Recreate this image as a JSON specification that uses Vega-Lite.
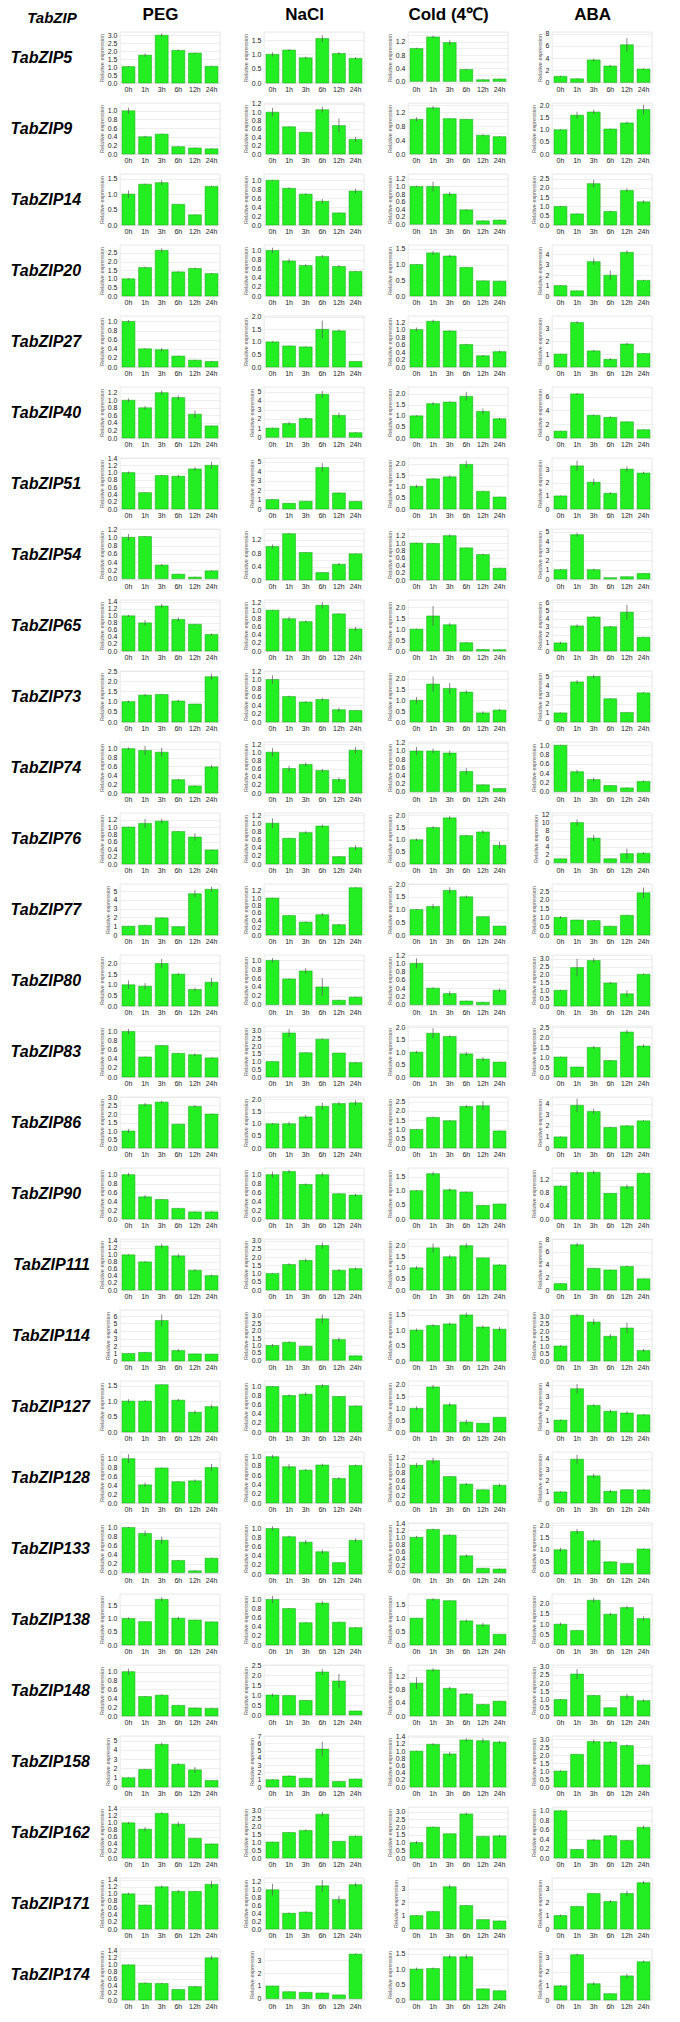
{
"$schema": "https://vega.github.io/schema/vega-lite/v6.json",
"padding": {"left": 10, "top": 6, "right": 5, "bottom": 5},
"bounds": "flush",
"spacing": {"row": 20, "column": 44},
"title": {"text": "\u200b\u00a0\u00a0\u00a0\u00a0TabZIP", "anchor": "start", "fontSize": 15, "fontStyle": "italic", "fontWeight": "bold", "offset": -20},
"data": {"values": [
{"g":5,"t":"PEG","lo":0.9,"hi":3.2},{"g":5,"t":"NaCl","lo":0.76,"hi":1.78},{"g":5,"t":"Cold","lo":-0.05,"hi":1.5},{"g":5,"t":"ABA","lo":-0.1,"hi":8.3},
{"g":5,"t":"PEG","h":"0h","v":1.03,"e":0.03},{"g":5,"t":"PEG","h":"1h","v":1.75,"e":0.1},{"g":5,"t":"PEG","h":"3h","v":3.0,"e":0.12},{"g":5,"t":"PEG","h":"6h","v":2.05,"e":0.05},{"g":5,"t":"PEG","h":"12h","v":1.88,"e":0.03},{"g":5,"t":"PEG","h":"24h","v":1.05,"e":0.03},
{"g":5,"t":"NaCl","h":"0h","v":1.0,"e":0.07},{"g":5,"t":"NaCl","h":"1h","v":1.15,"e":0.03},{"g":5,"t":"NaCl","h":"3h","v":0.88,"e":0.04},{"g":5,"t":"NaCl","h":"6h","v":1.55,"e":0.12},{"g":5,"t":"NaCl","h":"12h","v":1.03,"e":0.05},{"g":5,"t":"NaCl","h":"24h","v":0.86,"e":0.04},
{"g":5,"t":"Cold","h":"0h","v":1.0,"e":0.02},{"g":5,"t":"Cold","h":"1h","v":1.35,"e":0.04},{"g":5,"t":"Cold","h":"3h","v":1.18,"e":0.08},{"g":5,"t":"Cold","h":"6h","v":0.36,"e":0.02},{"g":5,"t":"Cold","h":"12h","v":0.05,"e":0.01},{"g":5,"t":"Cold","h":"24h","v":0.07,"e":0.01},
{"g":5,"t":"ABA","h":"0h","v":1.0,"e":0.1},{"g":5,"t":"ABA","h":"1h","v":0.6,"e":0.05},{"g":5,"t":"ABA","h":"3h","v":3.7,"e":0.2},{"g":5,"t":"ABA","h":"6h","v":2.7,"e":0.15},{"g":5,"t":"ABA","h":"12h","v":6.2,"e":1.1},{"g":5,"t":"ABA","h":"24h","v":2.2,"e":0.1},
{"g":9,"t":"PEG","lo":0.1,"hi":1.18},{"g":9,"t":"NaCl","lo":0.21,"hi":1.22},{"g":9,"t":"Cold","lo":0.38,"hi":1.47},{"g":9,"t":"ABA","lo":0.91,"hi":2.1},
{"g":9,"t":"PEG","h":"0h","v":1.0,"e":0.07},{"g":9,"t":"PEG","h":"1h","v":0.4,"e":0.02},{"g":9,"t":"PEG","h":"3h","v":0.46,"e":0.01},{"g":9,"t":"PEG","h":"6h","v":0.17,"e":0.01},{"g":9,"t":"PEG","h":"12h","v":0.14,"e":0.01},{"g":9,"t":"PEG","h":"24h","v":0.12,"e":0.01},
{"g":9,"t":"NaCl","h":"0h","v":1.0,"e":0.1},{"g":9,"t":"NaCl","h":"1h","v":0.65,"e":0.01},{"g":9,"t":"NaCl","h":"3h","v":0.52,"e":0.01},{"g":9,"t":"NaCl","h":"6h","v":1.06,"e":0.07},{"g":9,"t":"NaCl","h":"12h","v":0.68,"e":0.17},{"g":9,"t":"NaCl","h":"24h","v":0.35,"e":0.06},
{"g":9,"t":"Cold","h":"0h","v":1.0,"e":0.06},{"g":9,"t":"Cold","h":"1h","v":1.33,"e":0.05},{"g":9,"t":"Cold","h":"3h","v":1.02,"e":0.01},{"g":9,"t":"Cold","h":"6h","v":1.0,"e":0.01},{"g":9,"t":"Cold","h":"12h","v":0.54,"e":0.03},{"g":9,"t":"Cold","h":"24h","v":0.5,"e":0.01},
{"g":9,"t":"ABA","h":"0h","v":1.0,"e":0.02},{"g":9,"t":"ABA","h":"1h","v":1.6,"e":0.14},{"g":9,"t":"ABA","h":"3h","v":1.73,"e":0.09},{"g":9,"t":"ABA","h":"6h","v":1.03,"e":0.02},{"g":9,"t":"ABA","h":"12h","v":1.28,"e":0.05},{"g":9,"t":"ABA","h":"24h","v":1.83,"e":0.2},
{"g":14,"t":"PEG","lo":0.23,"hi":1.65},{"g":14,"t":"NaCl","lo":0.19,"hi":1.14},{"g":14,"t":"Cold","lo":-0.02,"hi":1.33},{"g":14,"t":"ABA","lo":0.4,"hi":2.75},
{"g":14,"t":"PEG","h":"0h","v":1.0,"e":0.12},{"g":14,"t":"PEG","h":"1h","v":1.32,"e":0.02},{"g":14,"t":"PEG","h":"3h","v":1.37,"e":0.08},{"g":14,"t":"PEG","h":"6h","v":0.67,"e":0.01},{"g":14,"t":"PEG","h":"12h","v":0.33,"e":0.01},{"g":14,"t":"PEG","h":"24h","v":1.25,"e":0.02},
{"g":14,"t":"NaCl","h":"0h","v":1.0,"e":0.01},{"g":14,"t":"NaCl","h":"1h","v":0.82,"e":0.02},{"g":14,"t":"NaCl","h":"3h","v":0.69,"e":0.02},{"g":14,"t":"NaCl","h":"6h","v":0.53,"e":0.05},{"g":14,"t":"NaCl","h":"12h","v":0.27,"e":0.01},{"g":14,"t":"NaCl","h":"24h","v":0.76,"e":0.05},
{"g":14,"t":"Cold","h":"0h","v":1.0,"e":0.02},{"g":14,"t":"Cold","h":"1h","v":1.0,"e":0.13},{"g":14,"t":"Cold","h":"3h","v":0.8,"e":0.06},{"g":14,"t":"Cold","h":"6h","v":0.38,"e":0.02},{"g":14,"t":"Cold","h":"12h","v":0.09,"e":0.01},{"g":14,"t":"Cold","h":"24h","v":0.11,"e":0.01},
{"g":14,"t":"ABA","h":"0h","v":1.0,"e":0.03},{"g":14,"t":"ABA","h":"1h","v":0.6,"e":0.02},{"g":14,"t":"ABA","h":"3h","v":2.23,"e":0.2},{"g":14,"t":"ABA","h":"6h","v":0.73,"e":0.04},{"g":14,"t":"ABA","h":"12h","v":1.87,"e":0.1},{"g":14,"t":"ABA","h":"24h","v":1.25,"e":0.08},
{"g":20,"t":"PEG","lo":0.81,"hi":2.96},{"g":20,"t":"NaCl","lo":0.46,"hi":1.12},{"g":20,"t":"Cold","lo":0.39,"hi":1.62},{"g":20,"t":"ABA","lo":0.2,"hi":4.9},
{"g":20,"t":"PEG","h":"0h","v":1.0,"e":0.04},{"g":20,"t":"PEG","h":"1h","v":1.65,"e":0.05},{"g":20,"t":"PEG","h":"3h","v":2.65,"e":0.12},{"g":20,"t":"PEG","h":"6h","v":1.4,"e":0.04},{"g":20,"t":"PEG","h":"12h","v":1.6,"e":0.04},{"g":20,"t":"PEG","h":"24h","v":1.3,"e":0.03},
{"g":20,"t":"NaCl","h":"0h","v":1.0,"e":0.06},{"g":20,"t":"NaCl","h":"1h","v":0.77,"e":0.05},{"g":20,"t":"NaCl","h":"3h","v":0.67,"e":0.03},{"g":20,"t":"NaCl","h":"6h","v":0.87,"e":0.03},{"g":20,"t":"NaCl","h":"12h","v":0.65,"e":0.03},{"g":20,"t":"NaCl","h":"24h","v":0.54,"e":0.01},
{"g":20,"t":"Cold","h":"0h","v":1.0,"e":0.01},{"g":20,"t":"Cold","h":"1h","v":1.37,"e":0.06},{"g":20,"t":"Cold","h":"3h","v":1.27,"e":0.04},{"g":20,"t":"Cold","h":"6h","v":0.91,"e":0.01},{"g":20,"t":"Cold","h":"12h","v":0.48,"e":0.01},{"g":20,"t":"Cold","h":"24h","v":0.47,"e":0.01},
{"g":20,"t":"ABA","h":"0h","v":1.0,"e":0.03},{"g":20,"t":"ABA","h":"1h","v":0.5,"e":0.02},{"g":20,"t":"ABA","h":"3h","v":3.3,"e":0.3},{"g":20,"t":"ABA","h":"6h","v":2.0,"e":0.45},{"g":20,"t":"ABA","h":"12h","v":4.2,"e":0.2},{"g":20,"t":"ABA","h":"24h","v":1.5,"e":0.05},
{"g":27,"t":"PEG","lo":0.11,"hi":1.12},{"g":27,"t":"NaCl","lo":0.06,"hi":2.03},{"g":27,"t":"Cold","lo":0.22,"hi":1.36},{"g":27,"t":"ABA","lo":0.16,"hi":3.95},
{"g":27,"t":"PEG","h":"0h","v":1.0,"e":0.03},{"g":27,"t":"PEG","h":"1h","v":0.4,"e":0.01},{"g":27,"t":"PEG","h":"3h","v":0.38,"e":0.04},{"g":27,"t":"PEG","h":"6h","v":0.24,"e":0.01},{"g":27,"t":"PEG","h":"12h","v":0.15,"e":0.01},{"g":27,"t":"PEG","h":"24h","v":0.12,"e":0.01},
{"g":27,"t":"NaCl","h":"0h","v":1.0,"e":0.03},{"g":27,"t":"NaCl","h":"1h","v":0.84,"e":0.02},{"g":27,"t":"NaCl","h":"3h","v":0.8,"e":0.02},{"g":27,"t":"NaCl","h":"6h","v":1.5,"e":0.35},{"g":27,"t":"NaCl","h":"12h","v":1.44,"e":0.05},{"g":27,"t":"NaCl","h":"24h","v":0.22,"e":0.01},
{"g":27,"t":"Cold","h":"0h","v":1.0,"e":0.05},{"g":27,"t":"Cold","h":"1h","v":1.22,"e":0.04},{"g":27,"t":"Cold","h":"3h","v":0.96,"e":0.02},{"g":27,"t":"Cold","h":"6h","v":0.6,"e":0.02},{"g":27,"t":"Cold","h":"12h","v":0.3,"e":0.02},{"g":27,"t":"Cold","h":"24h","v":0.41,"e":0.03},
{"g":27,"t":"ABA","h":"0h","v":1.0,"e":0.03},{"g":27,"t":"ABA","h":"1h","v":3.45,"e":0.1},{"g":27,"t":"ABA","h":"3h","v":1.25,"e":0.07},{"g":27,"t":"ABA","h":"6h","v":0.6,"e":0.08},{"g":27,"t":"ABA","h":"12h","v":1.78,"e":0.1},{"g":27,"t":"ABA","h":"24h","v":1.05,"e":0.03},
{"g":40,"t":"PEG","lo":0.19,"hi":1.35},{"g":40,"t":"NaCl","lo":-0.08,"hi":5.5},{"g":40,"t":"Cold","lo":0.69,"hi":2.3},{"g":40,"t":"ABA","lo":0.41,"hi":7.4},
{"g":40,"t":"PEG","h":"0h","v":1.0,"e":0.05},{"g":40,"t":"PEG","h":"1h","v":0.8,"e":0.05},{"g":40,"t":"PEG","h":"3h","v":1.2,"e":0.06},{"g":40,"t":"PEG","h":"6h","v":1.07,"e":0.06},{"g":40,"t":"PEG","h":"12h","v":0.63,"e":0.1},{"g":40,"t":"PEG","h":"24h","v":0.32,"e":0.01},
{"g":40,"t":"NaCl","h":"0h","v":1.0,"e":0.05},{"g":40,"t":"NaCl","h":"1h","v":1.5,"e":0.2},{"g":40,"t":"NaCl","h":"3h","v":2.05,"e":0.1},{"g":40,"t":"NaCl","h":"6h","v":4.7,"e":0.35},{"g":40,"t":"NaCl","h":"12h","v":2.4,"e":0.3},{"g":40,"t":"NaCl","h":"24h","v":0.5,"e":0.05},
{"g":40,"t":"Cold","h":"0h","v":1.0,"e":0.03},{"g":40,"t":"Cold","h":"1h","v":1.55,"e":0.07},{"g":40,"t":"Cold","h":"3h","v":1.62,"e":0.03},{"g":40,"t":"Cold","h":"6h","v":1.88,"e":0.2},{"g":40,"t":"Cold","h":"12h","v":1.2,"e":0.12},{"g":40,"t":"Cold","h":"24h","v":0.87,"e":0.04},
{"g":40,"t":"ABA","h":"0h","v":1.0,"e":0.05},{"g":40,"t":"ABA","h":"1h","v":6.4,"e":0.12},{"g":40,"t":"ABA","h":"3h","v":3.3,"e":0.1},{"g":40,"t":"ABA","h":"6h","v":3.0,"e":0.15},{"g":40,"t":"ABA","h":"12h","v":2.35,"e":0.05},{"g":40,"t":"ABA","h":"24h","v":1.2,"e":0.05},
{"g":51,"t":"PEG","lo":0.38,"hi":1.4},{"g":51,"t":"NaCl","lo":0.25,"hi":5.4},{"g":51,"t":"Cold","lo":0.38,"hi":2.25},{"g":51,"t":"ABA","lo":0.75,"hi":3.9},
{"g":51,"t":"PEG","h":"0h","v":1.0,"e":0.03},{"g":51,"t":"PEG","h":"1h","v":0.45,"e":0.01},{"g":51,"t":"PEG","h":"3h","v":0.92,"e":0.02},{"g":51,"t":"PEG","h":"6h","v":0.9,"e":0.04},{"g":51,"t":"PEG","h":"12h","v":1.1,"e":0.05},{"g":51,"t":"PEG","h":"24h","v":1.2,"e":0.1},
{"g":51,"t":"NaCl","h":"0h","v":1.0,"e":0.03},{"g":51,"t":"NaCl","h":"1h","v":0.6,"e":0.02},{"g":51,"t":"NaCl","h":"3h","v":0.82,"e":0.02},{"g":51,"t":"NaCl","h":"6h","v":4.4,"e":0.45},{"g":51,"t":"NaCl","h":"12h","v":1.7,"e":0.05},{"g":51,"t":"NaCl","h":"24h","v":0.8,"e":0.02},
{"g":51,"t":"Cold","h":"0h","v":1.0,"e":0.07},{"g":51,"t":"Cold","h":"1h","v":1.33,"e":0.02},{"g":51,"t":"Cold","h":"3h","v":1.42,"e":0.06},{"g":51,"t":"Cold","h":"6h","v":1.97,"e":0.15},{"g":51,"t":"Cold","h":"12h","v":0.78,"e":0.02},{"g":51,"t":"Cold","h":"24h","v":0.53,"e":0.01},
{"g":51,"t":"ABA","h":"0h","v":1.0,"e":0.03},{"g":51,"t":"ABA","h":"1h","v":3.3,"e":0.4},{"g":51,"t":"ABA","h":"3h","v":2.05,"e":0.25},{"g":51,"t":"ABA","h":"6h","v":1.2,"e":0.1},{"g":51,"t":"ABA","h":"12h","v":3.05,"e":0.2},{"g":51,"t":"ABA","h":"24h","v":2.75,"e":0.1},
{"g":54,"t":"PEG","lo":-0.03,"hi":1.2},{"g":54,"t":"NaCl","lo":0.15,"hi":1.52},{"g":54,"t":"Cold","lo":0.25,"hi":1.38},{"g":54,"t":"ABA","lo":-0.1,"hi":5.3},
{"g":54,"t":"PEG","h":"0h","v":1.0,"e":0.08},{"g":54,"t":"PEG","h":"1h","v":1.02,"e":0.01},{"g":54,"t":"PEG","h":"3h","v":0.33,"e":0.03},{"g":54,"t":"PEG","h":"6h","v":0.11,"e":0.01},{"g":54,"t":"PEG","h":"12h","v":0.04,"e":0.01},{"g":54,"t":"PEG","h":"24h","v":0.19,"e":0.01},
{"g":54,"t":"NaCl","h":"0h","v":1.0,"e":0.06},{"g":54,"t":"NaCl","h":"1h","v":1.38,"e":0.02},{"g":54,"t":"NaCl","h":"3h","v":0.82,"e":0.01},{"g":54,"t":"NaCl","h":"6h","v":0.22,"e":0.01},{"g":54,"t":"NaCl","h":"12h","v":0.47,"e":0.04},{"g":54,"t":"NaCl","h":"24h","v":0.78,"e":0.01},
{"g":54,"t":"Cold","h":"0h","v":1.0,"e":0.01},{"g":54,"t":"Cold","h":"1h","v":0.99,"e":0.01},{"g":54,"t":"Cold","h":"3h","v":1.2,"e":0.04},{"g":54,"t":"Cold","h":"6h","v":0.87,"e":0.01},{"g":54,"t":"Cold","h":"12h","v":0.69,"e":0.02},{"g":54,"t":"Cold","h":"24h","v":0.32,"e":0.01},
{"g":54,"t":"ABA","h":"0h","v":1.0,"e":0.05},{"g":54,"t":"ABA","h":"1h","v":4.7,"e":0.2},{"g":54,"t":"ABA","h":"3h","v":1.0,"e":0.1},{"g":54,"t":"ABA","h":"6h","v":0.15,"e":0.01},{"g":54,"t":"ABA","h":"12h","v":0.25,"e":0.02},{"g":54,"t":"ABA","h":"24h","v":0.6,"e":0.03},
{"g":65,"t":"PEG","lo":0.38,"hi":1.45},{"g":65,"t":"NaCl","lo":0.45,"hi":1.25},{"g":65,"t":"Cold","lo":0.0,"hi":2.33},{"g":65,"t":"ABA","lo":0.3,"hi":6.3},
{"g":65,"t":"PEG","h":"0h","v":1.0,"e":0.03},{"g":65,"t":"PEG","h":"1h","v":0.8,"e":0.08},{"g":65,"t":"PEG","h":"3h","v":1.28,"e":0.06},{"g":65,"t":"PEG","h":"6h","v":0.9,"e":0.06},{"g":65,"t":"PEG","h":"12h","v":0.76,"e":0.01},{"g":65,"t":"PEG","h":"24h","v":0.47,"e":0.03},
{"g":65,"t":"NaCl","h":"0h","v":1.0,"e":0.01},{"g":65,"t":"NaCl","h":"1h","v":0.79,"e":0.05},{"g":65,"t":"NaCl","h":"3h","v":0.72,"e":0.03},{"g":65,"t":"NaCl","h":"6h","v":1.12,"e":0.08},{"g":65,"t":"NaCl","h":"12h","v":0.91,"e":0.01},{"g":65,"t":"NaCl","h":"24h","v":0.54,"e":0.05},
{"g":65,"t":"Cold","h":"0h","v":1.0,"e":0.02},{"g":65,"t":"Cold","h":"1h","v":1.6,"e":0.45},{"g":65,"t":"Cold","h":"3h","v":1.2,"e":0.08},{"g":65,"t":"Cold","h":"6h","v":0.38,"e":0.02},{"g":65,"t":"Cold","h":"12h","v":0.07,"e":0.01},{"g":65,"t":"Cold","h":"24h","v":0.06,"e":0.01},
{"g":65,"t":"ABA","h":"0h","v":1.0,"e":0.15},{"g":65,"t":"ABA","h":"1h","v":3.1,"e":0.2},{"g":65,"t":"ABA","h":"3h","v":4.2,"e":0.1},{"g":65,"t":"ABA","h":"6h","v":3.0,"e":0.1},{"g":65,"t":"ABA","h":"12h","v":4.8,"e":0.9},{"g":65,"t":"ABA","h":"24h","v":1.7,"e":0.05},
{"g":73,"t":"PEG","lo":0.75,"hi":2.5},{"g":73,"t":"NaCl","lo":0.12,"hi":1.2},{"g":73,"t":"Cold","lo":0.28,"hi":2.35},{"g":73,"t":"ABA","lo":0.3,"hi":5.6},
{"g":73,"t":"PEG","h":"0h","v":1.0,"e":0.05},{"g":73,"t":"PEG","h":"1h","v":1.32,"e":0.06},{"g":73,"t":"PEG","h":"3h","v":1.35,"e":0.02},{"g":73,"t":"PEG","h":"6h","v":1.03,"e":0.06},{"g":73,"t":"PEG","h":"12h","v":0.88,"e":0.01},{"g":73,"t":"PEG","h":"24h","v":2.22,"e":0.15},
{"g":73,"t":"NaCl","h":"0h","v":1.0,"e":0.1},{"g":73,"t":"NaCl","h":"1h","v":0.6,"e":0.02},{"g":73,"t":"NaCl","h":"3h","v":0.47,"e":0.02},{"g":73,"t":"NaCl","h":"6h","v":0.53,"e":0.03},{"g":73,"t":"NaCl","h":"12h","v":0.29,"e":0.05},{"g":73,"t":"NaCl","h":"24h","v":0.27,"e":0.01},
{"g":73,"t":"Cold","h":"0h","v":1.0,"e":0.15},{"g":73,"t":"Cold","h":"1h","v":1.75,"e":0.35},{"g":73,"t":"Cold","h":"3h","v":1.55,"e":0.25},{"g":73,"t":"Cold","h":"6h","v":1.38,"e":0.08},{"g":73,"t":"Cold","h":"12h","v":0.42,"e":0.06},{"g":73,"t":"Cold","h":"24h","v":0.55,"e":0.05},
{"g":73,"t":"ABA","h":"0h","v":1.0,"e":0.05},{"g":73,"t":"ABA","h":"1h","v":4.4,"e":0.2},{"g":73,"t":"ABA","h":"3h","v":5.0,"e":0.2},{"g":73,"t":"ABA","h":"6h","v":2.55,"e":0.05},{"g":73,"t":"ABA","h":"12h","v":1.05,"e":0.02},{"g":73,"t":"ABA","h":"24h","v":3.2,"e":0.07},
{"g":74,"t":"PEG","lo":0.05,"hi":1.15},{"g":74,"t":"NaCl","lo":0.2,"hi":1.25},{"g":74,"t":"Cold","lo":-0.03,"hi":1.22},{"g":74,"t":"ABA","lo":-0.03,"hi":1.07},
{"g":74,"t":"PEG","h":"0h","v":1.0,"e":0.03},{"g":74,"t":"PEG","h":"1h","v":0.96,"e":0.1},{"g":74,"t":"PEG","h":"3h","v":0.92,"e":0.1},{"g":74,"t":"PEG","h":"6h","v":0.3,"e":0.02},{"g":74,"t":"PEG","h":"12h","v":0.16,"e":0.01},{"g":74,"t":"PEG","h":"24h","v":0.59,"e":0.04},
{"g":74,"t":"NaCl","h":"0h","v":1.0,"e":0.1},{"g":74,"t":"NaCl","h":"1h","v":0.6,"e":0.07},{"g":74,"t":"NaCl","h":"3h","v":0.7,"e":0.05},{"g":74,"t":"NaCl","h":"6h","v":0.55,"e":0.04},{"g":74,"t":"NaCl","h":"12h","v":0.33,"e":0.05},{"g":74,"t":"NaCl","h":"24h","v":1.05,"e":0.08},
{"g":74,"t":"Cold","h":"0h","v":1.0,"e":0.1},{"g":74,"t":"Cold","h":"1h","v":1.0,"e":0.06},{"g":74,"t":"Cold","h":"3h","v":0.95,"e":0.06},{"g":74,"t":"Cold","h":"6h","v":0.5,"e":0.08},{"g":74,"t":"Cold","h":"12h","v":0.17,"e":0.01},{"g":74,"t":"Cold","h":"24h","v":0.08,"e":0.01},
{"g":74,"t":"ABA","h":"0h","v":1.0,"e":0.01},{"g":74,"t":"ABA","h":"1h","v":0.43,"e":0.04},{"g":74,"t":"ABA","h":"3h","v":0.26,"e":0.04},{"g":74,"t":"ABA","h":"6h","v":0.13,"e":0.01},{"g":74,"t":"ABA","h":"12h","v":0.08,"e":0.01},{"g":74,"t":"ABA","h":"24h","v":0.22,"e":0.02},
{"g":76,"t":"PEG","lo":0.32,"hi":1.38},{"g":76,"t":"NaCl","lo":0.1,"hi":1.25},{"g":76,"t":"Cold","lo":0.55,"hi":2.1},{"g":76,"t":"ABA","lo":-0.3,"hi":12.5},
{"g":76,"t":"PEG","h":"0h","v":1.0,"e":0.01},{"g":76,"t":"PEG","h":"1h","v":1.1,"e":0.12},{"g":76,"t":"PEG","h":"3h","v":1.16,"e":0.06},{"g":76,"t":"PEG","h":"6h","v":0.88,"e":0.01},{"g":76,"t":"PEG","h":"12h","v":0.73,"e":0.1},{"g":76,"t":"PEG","h":"24h","v":0.38,"e":0.01},
{"g":76,"t":"NaCl","h":"0h","v":1.0,"e":0.12},{"g":76,"t":"NaCl","h":"1h","v":0.63,"e":0.01},{"g":76,"t":"NaCl","h":"3h","v":0.77,"e":0.03},{"g":76,"t":"NaCl","h":"6h","v":0.93,"e":0.04},{"g":76,"t":"NaCl","h":"12h","v":0.18,"e":0.01},{"g":76,"t":"NaCl","h":"24h","v":0.4,"e":0.06},
{"g":76,"t":"Cold","h":"0h","v":1.0,"e":0.05},{"g":76,"t":"Cold","h":"1h","v":1.5,"e":0.06},{"g":76,"t":"Cold","h":"3h","v":1.9,"e":0.08},{"g":76,"t":"Cold","h":"6h","v":1.17,"e":0.03},{"g":76,"t":"Cold","h":"12h","v":1.32,"e":0.08},{"g":76,"t":"Cold","h":"24h","v":0.77,"e":0.15},
{"g":76,"t":"ABA","h":"0h","v":1.0,"e":0.05},{"g":76,"t":"ABA","h":"1h","v":10.1,"e":0.8},{"g":76,"t":"ABA","h":"3h","v":6.2,"e":0.8},{"g":76,"t":"ABA","h":"6h","v":1.0,"e":0.1},{"g":76,"t":"ABA","h":"12h","v":2.3,"e":1.3},{"g":76,"t":"ABA","h":"24h","v":2.4,"e":0.3},
{"g":77,"t":"PEG","lo":0.3,"hi":5.8},{"g":77,"t":"NaCl","lo":0.2,"hi":1.38},{"g":77,"t":"Cold","lo":0.18,"hi":2.0},{"g":77,"t":"ABA","lo":0.38,"hi":2.9},
{"g":77,"t":"PEG","h":"0h","v":1.0,"e":0.02},{"g":77,"t":"PEG","h":"1h","v":1.1,"e":0.05},{"g":77,"t":"PEG","h":"3h","v":1.95,"e":0.05},{"g":77,"t":"PEG","h":"6h","v":0.95,"e":0.05},{"g":77,"t":"PEG","h":"12h","v":4.7,"e":0.4},{"g":77,"t":"PEG","h":"24h","v":5.2,"e":0.3},
{"g":77,"t":"NaCl","h":"0h","v":1.0,"e":0.01},{"g":77,"t":"NaCl","h":"1h","v":0.53,"e":0.01},{"g":77,"t":"NaCl","h":"3h","v":0.35,"e":0.02},{"g":77,"t":"NaCl","h":"6h","v":0.55,"e":0.05},{"g":77,"t":"NaCl","h":"12h","v":0.28,"e":0.02},{"g":77,"t":"NaCl","h":"24h","v":1.28,"e":0.01},
{"g":77,"t":"Cold","h":"0h","v":1.0,"e":0.02},{"g":77,"t":"Cold","h":"1h","v":1.12,"e":0.1},{"g":77,"t":"Cold","h":"3h","v":1.75,"e":0.12},{"g":77,"t":"Cold","h":"6h","v":1.5,"e":0.05},{"g":77,"t":"Cold","h":"12h","v":0.72,"e":0.01},{"g":77,"t":"Cold","h":"24h","v":0.35,"e":0.01},
{"g":77,"t":"ABA","h":"0h","v":1.0,"e":0.08},{"g":77,"t":"ABA","h":"1h","v":0.85,"e":0.01},{"g":77,"t":"ABA","h":"3h","v":0.82,"e":0.03},{"g":77,"t":"ABA","h":"6h","v":0.5,"e":0.02},{"g":77,"t":"ABA","h":"12h","v":1.12,"e":0.02},{"g":77,"t":"ABA","h":"24h","v":2.4,"e":0.3},
{"g":80,"t":"PEG","lo":0.62,"hi":2.4},{"g":80,"t":"NaCl","lo":-0.03,"hi":1.12},{"g":80,"t":"Cold","lo":-0.03,"hi":1.2},{"g":80,"t":"ABA","lo":0.35,"hi":3.25},
{"g":80,"t":"PEG","h":"0h","v":1.0,"e":0.2},{"g":80,"t":"PEG","h":"1h","v":0.93,"e":0.15},{"g":80,"t":"PEG","h":"3h","v":2.0,"e":0.22},{"g":80,"t":"PEG","h":"6h","v":1.5,"e":0.05},{"g":80,"t":"PEG","h":"12h","v":0.78,"e":0.08},{"g":80,"t":"PEG","h":"24h","v":1.12,"e":0.2},
{"g":80,"t":"NaCl","h":"0h","v":1.0,"e":0.05},{"g":80,"t":"NaCl","h":"1h","v":0.58,"e":0.01},{"g":80,"t":"NaCl","h":"3h","v":0.76,"e":0.06},{"g":80,"t":"NaCl","h":"6h","v":0.4,"e":0.2},{"g":80,"t":"NaCl","h":"12h","v":0.1,"e":0.01},{"g":80,"t":"NaCl","h":"24h","v":0.17,"e":0.01},
{"g":80,"t":"Cold","h":"0h","v":1.0,"e":0.12},{"g":80,"t":"Cold","h":"1h","v":0.4,"e":0.02},{"g":80,"t":"Cold","h":"3h","v":0.27,"e":0.06},{"g":80,"t":"Cold","h":"6h","v":0.09,"e":0.01},{"g":80,"t":"Cold","h":"12h","v":0.06,"e":0.01},{"g":80,"t":"Cold","h":"24h","v":0.35,"e":0.04},
{"g":80,"t":"ABA","h":"0h","v":1.0,"e":0.03},{"g":80,"t":"ABA","h":"1h","v":2.45,"e":0.55},{"g":80,"t":"ABA","h":"3h","v":2.9,"e":0.15},{"g":80,"t":"ABA","h":"6h","v":1.47,"e":0.07},{"g":80,"t":"ABA","h":"12h","v":0.78,"e":0.2},{"g":80,"t":"ABA","h":"24h","v":2.02,"e":0.05},
{"g":83,"t":"PEG","lo":0.35,"hi":1.12},{"g":83,"t":"NaCl","lo":0.6,"hi":3.3},{"g":83,"t":"Cold","lo":0.45,"hi":2.05},{"g":83,"t":"ABA","lo":0.3,"hi":2.55},
{"g":83,"t":"PEG","h":"0h","v":1.0,"e":0.06},{"g":83,"t":"PEG","h":"1h","v":0.44,"e":0.01},{"g":83,"t":"PEG","h":"3h","v":0.69,"e":0.01},{"g":83,"t":"PEG","h":"6h","v":0.52,"e":0.01},{"g":83,"t":"PEG","h":"12h","v":0.49,"e":0.03},{"g":83,"t":"PEG","h":"24h","v":0.42,"e":0.01},
{"g":83,"t":"NaCl","h":"0h","v":1.0,"e":0.01},{"g":83,"t":"NaCl","h":"1h","v":2.85,"e":0.25},{"g":83,"t":"NaCl","h":"3h","v":1.57,"e":0.03},{"g":83,"t":"NaCl","h":"6h","v":2.45,"e":0.05},{"g":83,"t":"NaCl","h":"12h","v":1.55,"e":0.01},{"g":83,"t":"NaCl","h":"24h","v":0.93,"e":0.03},
{"g":83,"t":"Cold","h":"0h","v":1.0,"e":0.05},{"g":83,"t":"Cold","h":"1h","v":1.76,"e":0.2},{"g":83,"t":"Cold","h":"3h","v":1.63,"e":0.04},{"g":83,"t":"Cold","h":"6h","v":0.93,"e":0.08},{"g":83,"t":"Cold","h":"12h","v":0.72,"e":0.08},{"g":83,"t":"Cold","h":"24h","v":0.6,"e":0.01},
{"g":83,"t":"ABA","h":"0h","v":1.0,"e":0.02},{"g":83,"t":"ABA","h":"1h","v":0.5,"e":0.01},{"g":83,"t":"ABA","h":"3h","v":1.48,"e":0.08},{"g":83,"t":"ABA","h":"6h","v":0.82,"e":0.03},{"g":83,"t":"ABA","h":"12h","v":2.25,"e":0.1},{"g":83,"t":"ABA","h":"24h","v":1.55,"e":0.08},
{"g":86,"t":"PEG","lo":0.8,"hi":3.0},{"g":86,"t":"NaCl","lo":0.88,"hi":2.1},{"g":86,"t":"Cold","lo":0.82,"hi":2.75},{"g":86,"t":"ABA","lo":0.6,"hi":4.6},
{"g":86,"t":"PEG","h":"0h","v":1.0,"e":0.12},{"g":86,"t":"PEG","h":"1h","v":2.55,"e":0.1},{"g":86,"t":"PEG","h":"3h","v":2.7,"e":0.08},{"g":86,"t":"PEG","h":"6h","v":1.4,"e":0.02},{"g":86,"t":"PEG","h":"12h","v":2.45,"e":0.08},{"g":86,"t":"PEG","h":"24h","v":2.0,"e":0.02},
{"g":86,"t":"NaCl","h":"0h","v":1.0,"e":0.03},{"g":86,"t":"NaCl","h":"1h","v":1.0,"e":0.08},{"g":86,"t":"NaCl","h":"3h","v":1.28,"e":0.08},{"g":86,"t":"NaCl","h":"6h","v":1.72,"e":0.15},{"g":86,"t":"NaCl","h":"12h","v":1.83,"e":0.08},{"g":86,"t":"NaCl","h":"24h","v":1.86,"e":0.1},
{"g":86,"t":"Cold","h":"0h","v":1.0,"e":0.02},{"g":86,"t":"Cold","h":"1h","v":1.65,"e":0.03},{"g":86,"t":"Cold","h":"3h","v":1.47,"e":0.03},{"g":86,"t":"Cold","h":"6h","v":2.24,"e":0.08},{"g":86,"t":"Cold","h":"12h","v":2.28,"e":0.25},{"g":86,"t":"Cold","h":"24h","v":0.92,"e":0.01},
{"g":86,"t":"ABA","h":"0h","v":1.0,"e":0.05},{"g":86,"t":"ABA","h":"1h","v":3.85,"e":0.6},{"g":86,"t":"ABA","h":"3h","v":3.3,"e":0.25},{"g":86,"t":"ABA","h":"6h","v":1.85,"e":0.05},{"g":86,"t":"ABA","h":"12h","v":2.0,"e":0.05},{"g":86,"t":"ABA","h":"24h","v":2.45,"e":0.05},
{"g":90,"t":"PEG","lo":0.04,"hi":1.15},{"g":90,"t":"NaCl","lo":0.44,"hi":1.15},{"g":90,"t":"Cold","lo":0.35,"hi":1.8},{"g":90,"t":"ABA","lo":0.7,"hi":1.55},
{"g":90,"t":"PEG","h":"0h","v":1.0,"e":0.04},{"g":90,"t":"PEG","h":"1h","v":0.5,"e":0.04},{"g":90,"t":"PEG","h":"3h","v":0.44,"e":0.01},{"g":90,"t":"PEG","h":"6h","v":0.24,"e":0.01},{"g":90,"t":"PEG","h":"12h","v":0.16,"e":0.01},{"g":90,"t":"PEG","h":"24h","v":0.16,"e":0.01},
{"g":90,"t":"NaCl","h":"0h","v":1.0,"e":0.07},{"g":90,"t":"NaCl","h":"1h","v":1.07,"e":0.04},{"g":90,"t":"NaCl","h":"3h","v":0.78,"e":0.02},{"g":90,"t":"NaCl","h":"6h","v":1.0,"e":0.05},{"g":90,"t":"NaCl","h":"12h","v":0.57,"e":0.01},{"g":90,"t":"NaCl","h":"24h","v":0.54,"e":0.03},
{"g":90,"t":"Cold","h":"0h","v":1.0,"e":0.02},{"g":90,"t":"Cold","h":"1h","v":1.6,"e":0.07},{"g":90,"t":"Cold","h":"3h","v":1.03,"e":0.05},{"g":90,"t":"Cold","h":"6h","v":0.95,"e":0.02},{"g":90,"t":"Cold","h":"12h","v":0.48,"e":0.01},{"g":90,"t":"Cold","h":"24h","v":0.53,"e":0.01},
{"g":90,"t":"ABA","h":"0h","v":1.0,"e":0.02},{"g":90,"t":"ABA","h":"1h","v":1.41,"e":0.06},{"g":90,"t":"ABA","h":"3h","v":1.42,"e":0.06},{"g":90,"t":"ABA","h":"6h","v":0.78,"e":0.01},{"g":90,"t":"ABA","h":"12h","v":0.98,"e":0.07},{"g":90,"t":"ABA","h":"24h","v":1.39,"e":0.02},
{"g":111,"t":"PEG","lo":0.32,"hi":1.45},{"g":111,"t":"NaCl","lo":0.85,"hi":3.1},{"g":111,"t":"Cold","lo":0.85,"hi":2.3},{"g":111,"t":"ABA","lo":0.5,"hi":8.0},
{"g":111,"t":"PEG","h":"0h","v":1.0,"e":0.02},{"g":111,"t":"PEG","h":"1h","v":0.8,"e":0.02},{"g":111,"t":"PEG","h":"3h","v":1.25,"e":0.07},{"g":111,"t":"PEG","h":"6h","v":0.97,"e":0.06},{"g":111,"t":"PEG","h":"12h","v":0.56,"e":0.03},{"g":111,"t":"PEG","h":"24h","v":0.41,"e":0.03},
{"g":111,"t":"NaCl","h":"0h","v":1.0,"e":0.02},{"g":111,"t":"NaCl","h":"1h","v":1.55,"e":0.08},{"g":111,"t":"NaCl","h":"3h","v":1.8,"e":0.1},{"g":111,"t":"NaCl","h":"6h","v":2.7,"e":0.2},{"g":111,"t":"NaCl","h":"12h","v":1.2,"e":0.08},{"g":111,"t":"NaCl","h":"24h","v":1.3,"e":0.07},
{"g":111,"t":"Cold","h":"0h","v":1.0,"e":0.08},{"g":111,"t":"Cold","h":"1h","v":1.9,"e":0.2},{"g":111,"t":"Cold","h":"3h","v":1.5,"e":0.08},{"g":111,"t":"Cold","h":"6h","v":2.0,"e":0.12},{"g":111,"t":"Cold","h":"12h","v":1.45,"e":0.01},{"g":111,"t":"Cold","h":"24h","v":1.13,"e":0.03},
{"g":111,"t":"ABA","h":"0h","v":1.0,"e":0.05},{"g":111,"t":"ABA","h":"1h","v":7.1,"e":0.3},{"g":111,"t":"ABA","h":"3h","v":3.4,"e":0.05},{"g":111,"t":"ABA","h":"6h","v":3.15,"e":0.05},{"g":111,"t":"ABA","h":"12h","v":3.7,"e":0.1},{"g":111,"t":"ABA","h":"24h","v":1.75,"e":0.05},
{"g":114,"t":"PEG","lo":0.1,"hi":6.8},{"g":114,"t":"NaCl","lo":-0.05,"hi":3.4},{"g":114,"t":"Cold","lo":0.92,"hi":1.65},{"g":114,"t":"ABA","lo":0.4,"hi":3.4},
{"g":114,"t":"PEG","h":"0h","v":1.0,"e":0.03},{"g":114,"t":"PEG","h":"1h","v":1.15,"e":0.05},{"g":114,"t":"PEG","h":"3h","v":5.4,"e":0.8},{"g":114,"t":"PEG","h":"6h","v":1.4,"e":0.2},{"g":114,"t":"PEG","h":"12h","v":0.95,"e":0.03},{"g":114,"t":"PEG","h":"24h","v":0.92,"e":0.03},
{"g":114,"t":"NaCl","h":"0h","v":1.0,"e":0.1},{"g":114,"t":"NaCl","h":"1h","v":1.22,"e":0.07},{"g":114,"t":"NaCl","h":"3h","v":0.95,"e":0.03},{"g":114,"t":"NaCl","h":"6h","v":2.8,"e":0.3},{"g":114,"t":"NaCl","h":"12h","v":1.4,"e":0.15},{"g":114,"t":"NaCl","h":"24h","v":0.3,"e":0.02},
{"g":114,"t":"Cold","h":"0h","v":1.0,"e":0.05},{"g":114,"t":"Cold","h":"1h","v":1.15,"e":0.04},{"g":114,"t":"Cold","h":"3h","v":1.2,"e":0.05},{"g":114,"t":"Cold","h":"6h","v":1.49,"e":0.08},{"g":114,"t":"Cold","h":"12h","v":1.1,"e":0.05},{"g":114,"t":"Cold","h":"24h","v":1.03,"e":0.07},
{"g":114,"t":"ABA","h":"0h","v":1.0,"e":0.05},{"g":114,"t":"ABA","h":"1h","v":3.05,"e":0.1},{"g":114,"t":"ABA","h":"3h","v":2.6,"e":0.2},{"g":114,"t":"ABA","h":"6h","v":1.65,"e":0.15},{"g":114,"t":"ABA","h":"12h","v":2.2,"e":0.35},{"g":114,"t":"ABA","h":"24h","v":0.7,"e":0.1},
{"g":127,"t":"PEG","lo":0.48,"hi":1.65},{"g":127,"t":"NaCl","lo":0.5,"hi":1.12},{"g":127,"t":"Cold","lo":0.25,"hi":2.15},{"g":127,"t":"ABA","lo":0.7,"hi":4.3},
{"g":127,"t":"PEG","h":"0h","v":1.0,"e":0.06},{"g":127,"t":"PEG","h":"1h","v":1.0,"e":0.03},{"g":127,"t":"PEG","h":"3h","v":1.53,"e":0.01},{"g":127,"t":"PEG","h":"6h","v":1.03,"e":0.04},{"g":127,"t":"PEG","h":"12h","v":0.64,"e":0.06},{"g":127,"t":"PEG","h":"24h","v":0.82,"e":0.07},
{"g":127,"t":"NaCl","h":"0h","v":1.0,"e":0.01},{"g":127,"t":"NaCl","h":"1h","v":0.8,"e":0.03},{"g":127,"t":"NaCl","h":"3h","v":0.83,"e":0.04},{"g":127,"t":"NaCl","h":"6h","v":1.02,"e":0.04},{"g":127,"t":"NaCl","h":"12h","v":0.78,"e":0.01},{"g":127,"t":"NaCl","h":"24h","v":0.57,"e":0.01},
{"g":127,"t":"Cold","h":"0h","v":1.0,"e":0.08},{"g":127,"t":"Cold","h":"1h","v":1.9,"e":0.08},{"g":127,"t":"Cold","h":"3h","v":1.15,"e":0.08},{"g":127,"t":"Cold","h":"6h","v":0.42,"e":0.1},{"g":127,"t":"Cold","h":"12h","v":0.37,"e":0.01},{"g":127,"t":"Cold","h":"24h","v":0.62,"e":0.01},
{"g":127,"t":"ABA","h":"0h","v":1.0,"e":0.05},{"g":127,"t":"ABA","h":"1h","v":3.65,"e":0.4},{"g":127,"t":"ABA","h":"3h","v":2.25,"e":0.08},{"g":127,"t":"ABA","h":"6h","v":1.75,"e":0.15},{"g":127,"t":"ABA","h":"12h","v":1.6,"e":0.15},{"g":127,"t":"ABA","h":"24h","v":1.45,"e":0.05},
{"g":128,"t":"PEG","lo":0.32,"hi":1.15},{"g":128,"t":"NaCl","lo":0.45,"hi":1.1},{"g":128,"t":"Cold","lo":0.25,"hi":1.35},{"g":128,"t":"ABA","lo":0.55,"hi":4.6},
{"g":128,"t":"PEG","h":"0h","v":1.0,"e":0.1},{"g":128,"t":"PEG","h":"1h","v":0.41,"e":0.05},{"g":128,"t":"PEG","h":"3h","v":0.79,"e":0.01},{"g":128,"t":"PEG","h":"6h","v":0.48,"e":0.01},{"g":128,"t":"PEG","h":"12h","v":0.5,"e":0.03},{"g":128,"t":"PEG","h":"24h","v":0.8,"e":0.08},
{"g":128,"t":"NaCl","h":"0h","v":1.0,"e":0.04},{"g":128,"t":"NaCl","h":"1h","v":0.78,"e":0.06},{"g":128,"t":"NaCl","h":"3h","v":0.71,"e":0.02},{"g":128,"t":"NaCl","h":"6h","v":0.82,"e":0.03},{"g":128,"t":"NaCl","h":"12h","v":0.53,"e":0.03},{"g":128,"t":"NaCl","h":"24h","v":0.81,"e":0.02},
{"g":128,"t":"Cold","h":"0h","v":1.0,"e":0.06},{"g":128,"t":"Cold","h":"1h","v":1.12,"e":0.08},{"g":128,"t":"Cold","h":"3h","v":0.7,"e":0.01},{"g":128,"t":"Cold","h":"6h","v":0.5,"e":0.03},{"g":128,"t":"Cold","h":"12h","v":0.35,"e":0.01},{"g":128,"t":"Cold","h":"24h","v":0.47,"e":0.04},
{"g":128,"t":"ABA","h":"0h","v":1.0,"e":0.05},{"g":128,"t":"ABA","h":"1h","v":3.95,"e":0.4},{"g":128,"t":"ABA","h":"3h","v":2.45,"e":0.2},{"g":128,"t":"ABA","h":"6h","v":1.05,"e":0.15},{"g":128,"t":"ABA","h":"12h","v":1.2,"e":0.03},{"g":128,"t":"ABA","h":"24h","v":1.18,"e":0.05},
{"g":133,"t":"PEG","lo":-0.03,"hi":1.1},{"g":133,"t":"NaCl","lo":0.15,"hi":1.12},{"g":133,"t":"Cold","lo":-0.03,"hi":1.4},{"g":133,"t":"ABA","lo":0.3,"hi":2.1},
{"g":133,"t":"PEG","h":"0h","v":1.0,"e":0.01},{"g":133,"t":"PEG","h":"1h","v":0.87,"e":0.06},{"g":133,"t":"PEG","h":"3h","v":0.72,"e":0.08},{"g":133,"t":"PEG","h":"6h","v":0.27,"e":0.01},{"g":133,"t":"PEG","h":"12h","v":0.04,"e":0.01},{"g":133,"t":"PEG","h":"24h","v":0.32,"e":0.01},
{"g":133,"t":"NaCl","h":"0h","v":1.0,"e":0.05},{"g":133,"t":"NaCl","h":"1h","v":0.82,"e":0.02},{"g":133,"t":"NaCl","h":"3h","v":0.7,"e":0.05},{"g":133,"t":"NaCl","h":"6h","v":0.49,"e":0.05},{"g":133,"t":"NaCl","h":"12h","v":0.25,"e":0.01},{"g":133,"t":"NaCl","h":"24h","v":0.74,"e":0.04},
{"g":133,"t":"Cold","h":"0h","v":1.0,"e":0.04},{"g":133,"t":"Cold","h":"1h","v":1.22,"e":0.02},{"g":133,"t":"Cold","h":"3h","v":1.06,"e":0.02},{"g":133,"t":"Cold","h":"6h","v":0.48,"e":0.04},{"g":133,"t":"Cold","h":"12h","v":0.13,"e":0.01},{"g":133,"t":"Cold","h":"24h","v":0.11,"e":0.01},
{"g":133,"t":"ABA","h":"0h","v":1.0,"e":0.08},{"g":133,"t":"ABA","h":"1h","v":1.75,"e":0.1},{"g":133,"t":"ABA","h":"3h","v":1.37,"e":0.06},{"g":133,"t":"ABA","h":"6h","v":0.5,"e":0.01},{"g":133,"t":"ABA","h":"12h","v":0.43,"e":0.01},{"g":133,"t":"ABA","h":"24h","v":1.03,"e":0.02},
{"g":138,"t":"PEG","lo":0.78,"hi":1.92},{"g":138,"t":"NaCl","lo":0.3,"hi":1.12},{"g":138,"t":"Cold","lo":0.3,"hi":1.9},{"g":138,"t":"ABA","lo":0.5,"hi":2.45},
{"g":138,"t":"PEG","h":"0h","v":1.0,"e":0.04},{"g":138,"t":"PEG","h":"1h","v":0.88,"e":0.01},{"g":138,"t":"PEG","h":"3h","v":1.72,"e":0.08},{"g":138,"t":"PEG","h":"6h","v":1.01,"e":0.06},{"g":138,"t":"PEG","h":"12h","v":0.94,"e":0.01},{"g":138,"t":"PEG","h":"24h","v":0.87,"e":0.01},
{"g":138,"t":"NaCl","h":"0h","v":1.0,"e":0.08},{"g":138,"t":"NaCl","h":"1h","v":0.8,"e":0.01},{"g":138,"t":"NaCl","h":"3h","v":0.49,"e":0.01},{"g":138,"t":"NaCl","h":"6h","v":0.92,"e":0.05},{"g":138,"t":"NaCl","h":"12h","v":0.5,"e":0.01},{"g":138,"t":"NaCl","h":"24h","v":0.38,"e":0.01},
{"g":138,"t":"Cold","h":"0h","v":1.0,"e":0.01},{"g":138,"t":"Cold","h":"1h","v":1.7,"e":0.04},{"g":138,"t":"Cold","h":"3h","v":1.65,"e":0.01},{"g":138,"t":"Cold","h":"6h","v":0.9,"e":0.05},{"g":138,"t":"Cold","h":"12h","v":0.75,"e":0.08},{"g":138,"t":"Cold","h":"24h","v":0.4,"e":0.01},
{"g":138,"t":"ABA","h":"0h","v":1.0,"e":0.08},{"g":138,"t":"ABA","h":"1h","v":0.7,"e":0.01},{"g":138,"t":"ABA","h":"3h","v":2.15,"e":0.12},{"g":138,"t":"ABA","h":"6h","v":1.48,"e":0.07},{"g":138,"t":"ABA","h":"12h","v":1.8,"e":0.08},{"g":138,"t":"ABA","h":"24h","v":1.27,"e":0.1},
{"g":148,"t":"PEG","lo":0.08,"hi":1.15},{"g":148,"t":"NaCl","lo":-0.05,"hi":2.5},{"g":148,"t":"Cold","lo":0.25,"hi":1.55},{"g":148,"t":"ABA","lo":0.3,"hi":3.1},
{"g":148,"t":"PEG","h":"0h","v":1.0,"e":0.07},{"g":148,"t":"PEG","h":"1h","v":0.44,"e":0.01},{"g":148,"t":"PEG","h":"3h","v":0.47,"e":0.02},{"g":148,"t":"PEG","h":"6h","v":0.24,"e":0.01},{"g":148,"t":"PEG","h":"12h","v":0.18,"e":0.01},{"g":148,"t":"PEG","h":"24h","v":0.17,"e":0.01},
{"g":148,"t":"NaCl","h":"0h","v":1.0,"e":0.08},{"g":148,"t":"NaCl","h":"1h","v":0.97,"e":0.02},{"g":148,"t":"NaCl","h":"3h","v":0.73,"e":0.02},{"g":148,"t":"NaCl","h":"6h","v":2.15,"e":0.15},{"g":148,"t":"NaCl","h":"12h","v":1.7,"e":0.35},{"g":148,"t":"NaCl","h":"24h","v":0.2,"e":0.01},
{"g":148,"t":"Cold","h":"0h","v":1.0,"e":0.18},{"g":148,"t":"Cold","h":"1h","v":1.4,"e":0.05},{"g":148,"t":"Cold","h":"3h","v":0.84,"e":0.05},{"g":148,"t":"Cold","h":"6h","v":0.67,"e":0.03},{"g":148,"t":"Cold","h":"12h","v":0.35,"e":0.01},{"g":148,"t":"Cold","h":"24h","v":0.45,"e":0.01},
{"g":148,"t":"ABA","h":"0h","v":1.0,"e":0.03},{"g":148,"t":"ABA","h":"1h","v":2.55,"e":0.3},{"g":148,"t":"ABA","h":"3h","v":1.25,"e":0.03},{"g":148,"t":"ABA","h":"6h","v":0.5,"e":0.02},{"g":148,"t":"ABA","h":"12h","v":1.2,"e":0.15},{"g":148,"t":"ABA","h":"24h","v":0.93,"e":0.08},
{"g":158,"t":"PEG","lo":0.2,"hi":5.5},{"g":158,"t":"NaCl","lo":0.1,"hi":7.0},{"g":158,"t":"Cold","lo":0.85,"hi":1.42},{"g":158,"t":"ABA","lo":0.8,"hi":3.2},
{"g":158,"t":"PEG","h":"0h","v":1.0,"e":0.03},{"g":158,"t":"PEG","h":"1h","v":1.9,"e":0.05},{"g":158,"t":"PEG","h":"3h","v":4.6,"e":0.2},{"g":158,"t":"PEG","h":"6h","v":2.45,"e":0.1},{"g":158,"t":"PEG","h":"12h","v":1.85,"e":0.3},{"g":158,"t":"PEG","h":"24h","v":0.7,"e":0.03},
{"g":158,"t":"NaCl","h":"0h","v":1.0,"e":0.05},{"g":158,"t":"NaCl","h":"1h","v":1.5,"e":0.1},{"g":158,"t":"NaCl","h":"3h","v":1.2,"e":0.05},{"g":158,"t":"NaCl","h":"6h","v":5.2,"e":1.0},{"g":158,"t":"NaCl","h":"12h","v":0.75,"e":0.05},{"g":158,"t":"NaCl","h":"24h","v":1.1,"e":0.03},
{"g":158,"t":"Cold","h":"0h","v":1.0,"e":0.01},{"g":158,"t":"Cold","h":"1h","v":1.19,"e":0.03},{"g":158,"t":"Cold","h":"3h","v":0.92,"e":0.06},{"g":158,"t":"Cold","h":"6h","v":1.31,"e":0.05},{"g":158,"t":"Cold","h":"12h","v":1.29,"e":0.07},{"g":158,"t":"Cold","h":"24h","v":1.25,"e":0.04},
{"g":158,"t":"ABA","h":"0h","v":1.0,"e":0.05},{"g":158,"t":"ABA","h":"1h","v":2.05,"e":0.01},{"g":158,"t":"ABA","h":"3h","v":2.85,"e":0.12},{"g":158,"t":"ABA","h":"6h","v":2.82,"e":0.08},{"g":158,"t":"ABA","h":"12h","v":2.6,"e":0.07},{"g":158,"t":"ABA","h":"24h","v":1.38,"e":0.02},
{"g":162,"t":"PEG","lo":0.3,"hi":1.45},{"g":162,"t":"NaCl","lo":0.85,"hi":3.2},{"g":162,"t":"Cold","lo":0.7,"hi":3.3},{"g":162,"t":"ABA","lo":0.1,"hi":1.08},
{"g":162,"t":"PEG","h":"0h","v":1.0,"e":0.03},{"g":162,"t":"PEG","h":"1h","v":0.82,"e":0.06},{"g":162,"t":"PEG","h":"3h","v":1.27,"e":0.03},{"g":162,"t":"PEG","h":"6h","v":0.96,"e":0.07},{"g":162,"t":"PEG","h":"12h","v":0.56,"e":0.01},{"g":162,"t":"PEG","h":"24h","v":0.4,"e":0.01},
{"g":162,"t":"NaCl","h":"0h","v":1.0,"e":0.02},{"g":162,"t":"NaCl","h":"1h","v":1.6,"e":0.02},{"g":162,"t":"NaCl","h":"3h","v":1.73,"e":0.07},{"g":162,"t":"NaCl","h":"6h","v":2.75,"e":0.15},{"g":162,"t":"NaCl","h":"12h","v":1.05,"e":0.01},{"g":162,"t":"NaCl","h":"24h","v":1.37,"e":0.04},
{"g":162,"t":"Cold","h":"0h","v":1.0,"e":0.1},{"g":162,"t":"Cold","h":"1h","v":2.0,"e":0.03},{"g":162,"t":"Cold","h":"3h","v":1.57,"e":0.01},{"g":162,"t":"Cold","h":"6h","v":2.85,"e":0.08},{"g":162,"t":"Cold","h":"12h","v":1.4,"e":0.02},{"g":162,"t":"Cold","h":"24h","v":1.43,"e":0.08},
{"g":162,"t":"ABA","h":"0h","v":1.0,"e":0.01},{"g":162,"t":"ABA","h":"1h","v":0.18,"e":0.01},{"g":162,"t":"ABA","h":"3h","v":0.38,"e":0.02},{"g":162,"t":"ABA","h":"6h","v":0.47,"e":0.02},{"g":162,"t":"ABA","h":"12h","v":0.37,"e":0.01},{"g":162,"t":"ABA","h":"24h","v":0.65,"e":0.04},
{"g":171,"t":"PEG","lo":0.6,"hi":1.45},{"g":171,"t":"NaCl","lo":0.3,"hi":1.3},{"g":171,"t":"Cold","lo":0.4,"hi":3.8},{"g":171,"t":"ABA","lo":0.7,"hi":3.8},
{"g":171,"t":"PEG","h":"0h","v":1.0,"e":0.03},{"g":171,"t":"PEG","h":"1h","v":0.68,"e":0.01},{"g":171,"t":"PEG","h":"3h","v":1.2,"e":0.04},{"g":171,"t":"PEG","h":"6h","v":1.07,"e":0.04},{"g":171,"t":"PEG","h":"12h","v":1.07,"e":0.01},{"g":171,"t":"PEG","h":"24h","v":1.27,"e":0.1},
{"g":171,"t":"NaCl","h":"0h","v":1.0,"e":0.15},{"g":171,"t":"NaCl","h":"1h","v":0.4,"e":0.02},{"g":171,"t":"NaCl","h":"3h","v":0.43,"e":0.02},{"g":171,"t":"NaCl","h":"6h","v":1.1,"e":0.15},{"g":171,"t":"NaCl","h":"12h","v":0.75,"e":0.1},{"g":171,"t":"NaCl","h":"24h","v":1.13,"e":0.05},
{"g":171,"t":"Cold","h":"0h","v":1.0,"e":0.03},{"g":171,"t":"Cold","h":"1h","v":1.3,"e":0.03},{"g":171,"t":"Cold","h":"3h","v":3.15,"e":0.15},{"g":171,"t":"Cold","h":"6h","v":1.75,"e":0.03},{"g":171,"t":"Cold","h":"12h","v":0.7,"e":0.01},{"g":171,"t":"Cold","h":"24h","v":0.6,"e":0.02},
{"g":171,"t":"ABA","h":"0h","v":1.0,"e":0.08},{"g":171,"t":"ABA","h":"1h","v":1.68,"e":0.02},{"g":171,"t":"ABA","h":"3h","v":2.65,"e":0.02},{"g":171,"t":"ABA","h":"6h","v":2.05,"e":0.12},{"g":171,"t":"ABA","h":"12h","v":2.65,"e":0.2},{"g":171,"t":"ABA","h":"24h","v":3.45,"e":0.12},
{"g":174,"t":"PEG","lo":0.18,"hi":1.45},{"g":174,"t":"NaCl","lo":-0.1,"hi":3.9},{"g":174,"t":"Cold","lo":0.12,"hi":1.65},{"g":174,"t":"ABA","lo":0.25,"hi":3.6},
{"g":174,"t":"PEG","h":"0h","v":1.0,"e":0.01},{"g":174,"t":"PEG","h":"1h","v":0.48,"e":0.02},{"g":174,"t":"PEG","h":"3h","v":0.47,"e":0.02},{"g":174,"t":"PEG","h":"6h","v":0.3,"e":0.01},{"g":174,"t":"PEG","h":"12h","v":0.38,"e":0.02},{"g":174,"t":"PEG","h":"24h","v":1.2,"e":0.06},
{"g":174,"t":"NaCl","h":"0h","v":1.0,"e":0.02},{"g":174,"t":"NaCl","h":"1h","v":0.55,"e":0.03},{"g":174,"t":"NaCl","h":"3h","v":0.5,"e":0.02},{"g":174,"t":"NaCl","h":"6h","v":0.45,"e":0.02},{"g":174,"t":"NaCl","h":"12h","v":0.3,"e":0.01},{"g":174,"t":"NaCl","h":"24h","v":3.5,"e":0.05},
{"g":174,"t":"Cold","h":"0h","v":1.0,"e":0.05},{"g":174,"t":"Cold","h":"1h","v":1.02,"e":0.03},{"g":174,"t":"Cold","h":"3h","v":1.4,"e":0.06},{"g":174,"t":"Cold","h":"6h","v":1.4,"e":0.08},{"g":174,"t":"Cold","h":"12h","v":0.36,"e":0.01},{"g":174,"t":"Cold","h":"24h","v":0.3,"e":0.01},
{"g":174,"t":"ABA","h":"0h","v":1.0,"e":0.05},{"g":174,"t":"ABA","h":"1h","v":3.2,"e":0.08},{"g":174,"t":"ABA","h":"3h","v":1.15,"e":0.12},{"g":174,"t":"ABA","h":"6h","v":0.45,"e":0.02},{"g":174,"t":"ABA","h":"12h","v":1.7,"e":0.15},{"g":174,"t":"ABA","h":"24h","v":2.7,"e":0.08}
]},
"facet": {
  "row": {"field": "g", "type": "ordinal", "title": null,
    "header": {"labelExpr": "'TabZIP' + datum.value + (datum.value < 10 ? '\u00a0\u00a0\u00a0\u00a0\u200b' : datum.value < 100 ? '\u00a0\u00a0\u200b' : '')", "labelAngle": 0, "labelAlign": "left", "labelOrient": "left", "labelFontSize": 16, "labelFontWeight": "bold", "labelFontStyle": "italic", "labelColor": "#000", "labelPadding": 30}},
  "column": {"field": "t", "type": "nominal", "title": null, "sort": ["PEG", "NaCl", "Cold", "ABA"],
    "header": {"labelExpr": "(datum.value == 'Cold' ? 'Cold (4℃)' : datum.value) + '\u00a0\u00a0\u00a0\u00a0\u200b'", "labelOrient": "top", "labelFontSize": 17, "labelFontWeight": "bold", "labelColor": "#000", "labelPadding": 8}}
},
"spec": {
  "width": 100,
  "height": 51,
  "layer": [
    {"transform": [{"filter": "isValid(datum.lo)"}],
     "mark": {"type": "rule", "strokeOpacity": 0},
     "encoding": {
       "y": {"field": "lo", "type": "quantitative", "title": "Relative expression", "scale": {"zero": false, "nice": false}},
       "y2": {"field": "hi"}}},
    {"transform": [{"filter": "isValid(datum.v)"}],
     "mark": {"type": "bar", "color": "#22ee22", "stroke": "#1aa51a", "strokeWidth": 0.5},
     "encoding": {
       "x": {"field": "h", "type": "nominal", "title": null, "sort": ["0h", "1h", "3h", "6h", "12h", "24h"], "scale": {"paddingInner": 0.22, "paddingOuter": 0.12}},
       "y": {"field": "v", "type": "quantitative", "title": "Relative expression", "scale": {"zero": false, "nice": false}}}},
    {"transform": [{"filter": "isValid(datum.v)"}, {"calculate": "datum.v - datum.e", "as": "e1"}, {"calculate": "datum.v + datum.e", "as": "e2"}],
     "mark": {"type": "rule", "color": "#555555", "strokeWidth": 0.7},
     "encoding": {
       "x": {"field": "h", "type": "nominal", "title": null, "sort": ["0h", "1h", "3h", "6h", "12h", "24h"]},
       "y": {"field": "e1", "type": "quantitative", "title": "Relative expression", "scale": {"zero": false, "nice": false}},
       "y2": {"field": "e2"}}}
  ]
},
"resolve": {"scale": {"y": "independent"}, "axis": {"x": "independent", "y": "independent"}},
"config": {
  "font": "Liberation Sans",
  "view": {"stroke": "#d6d6d6", "strokeWidth": 0.6},
  "axis": {"labelFont": "Liberation Sans", "labelFontSize": 7, "labelColor": "#222222", "ticks": false, "domain": false, "labelPadding": 2},
  "axisY": {"grid": true, "gridColor": "#e4e4e4", "gridWidth": 0.6, "tickCount": 5, "titleFontSize": 5.5, "titleFontWeight": "normal", "titleColor": "#555555", "titlePadding": 3, "labelPadding": 3},
  "axisX": {"labelAngle": 0, "labelPadding": 2}
}
}
